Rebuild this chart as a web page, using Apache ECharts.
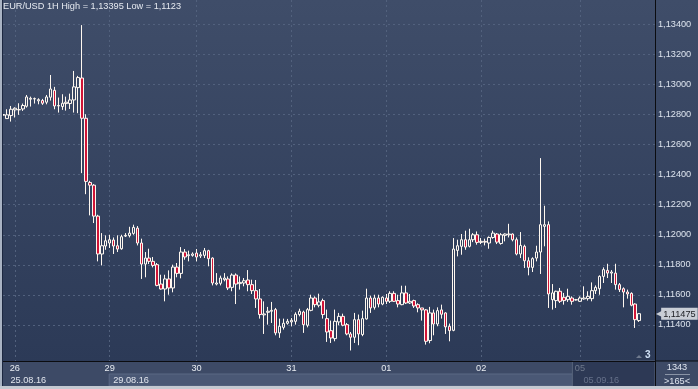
<!DOCTYPE html>
<html><head><meta charset="utf-8">
<script src="https://cdn.jsdelivr.net/npm/echarts@6/dist/echarts.min.js"></script>
<style>html,body{margin:0;padding:0;background:#2c3a57;overflow:hidden}#c{width:698px;height:389px}</style>
</head><body><div id="c"></div>
<script>
const titleText = 'EUR/USD 1H High = 1,13395 Low = 1,1123';
const opens = [
1.12795,1.12773,1.12793,1.12831,1.12831,1.12837,1.12855,1.12902,1.12904,1.12891,
1.12893,1.12882,1.12915,1.12961,1.12857,1.12853,1.12873,1.12873,1.12897,1.12979,
1.13043,1.12775,1.12348,1.12330,1.12124,1.11872,1.11925,1.11945,1.11965,1.11927,
1.11907,1.11991,1.11994,1.12009,1.12044,1.11945,1.11805,1.11845,1.11823,1.11801,
1.11672,1.11639,1.11706,1.11646,1.11785,1.11743,1.11885,1.11861,1.11863,1.11878,
1.11859,1.11863,1.11894,1.11845,1.11672,1.11677,1.11701,1.11706,1.11650,1.11732,
1.11675,1.11679,1.11699,1.11668,1.11628,1.11573,1.11467,1.11484,1.11491,1.11502,
1.11347,1.11384,1.11411,1.11420,1.11424,1.11469,1.11486,1.11398,1.11497,1.11579,
1.11531,1.11562,1.11442,1.11362,1.11309,1.11420,1.11457,1.11402,1.11340,1.11318,
1.11435,1.11336,1.11440,1.11579,1.11517,1.11579,1.11539,1.11579,1.11557,1.11610,
1.11562,1.11535,1.11613,1.11546,1.11562,1.11535,1.11513,1.11500,1.11296,1.11480,
1.11406,1.11500,1.11480,1.11391,1.11364,1.11896,1.11923,1.11967,1.11923,1.11967,
1.12000,1.11949,1.11956,1.11945,1.11982,1.12005,1.11942,1.11996,1.12000,1.12005,
1.11967,1.11872,1.11923,1.11827,1.11783,1.11845,1.11885,1.12056,1.12067,1.11568,
1.11562,1.11624,1.11584,1.11568,1.11579,1.11566,1.11557,1.11573,1.11575,1.11575,
1.11628,1.11641,1.11723,1.11763,1.11745,1.11745,1.11668,1.11641,1.11619,1.11610,
1.11539,1.11429];
const closes = [
1.12800,1.12798,1.12835,1.12842,1.12833,1.12860,1.12917,1.12908,1.12906,1.12899,
1.12875,1.12917,1.12970,1.12857,1.12860,1.12875,1.12882,1.12897,1.12984,1.13046,
1.12775,1.12355,1.12330,1.12124,1.11872,1.11927,1.11960,1.11967,1.11925,1.11905,
1.11987,1.11996,1.12011,1.12049,1.11945,1.11805,1.11845,1.11823,1.11796,1.11663,
1.11639,1.11706,1.11646,1.11785,1.11743,1.11885,1.11852,1.11867,1.11872,1.11852,
1.11867,1.11894,1.11841,1.11679,1.11679,1.11712,1.11712,1.11646,1.11732,1.11672,
1.11683,1.11694,1.11668,1.11628,1.11573,1.11469,1.11473,1.11491,1.11497,1.11347,
1.11391,1.11411,1.11424,1.11431,1.11471,1.11491,1.11402,1.11502,1.11579,1.11535,
1.11553,1.11469,1.11353,1.11313,1.11424,1.11457,1.11398,1.11340,1.11318,1.11435,
1.11340,1.11442,1.11579,1.11513,1.11579,1.11539,1.11584,1.11557,1.11610,1.11557,
1.11539,1.11613,1.11546,1.11557,1.11526,1.11513,1.11500,1.11291,1.11480,1.11406,
1.11495,1.11471,1.11387,1.11362,1.11905,1.11927,1.11967,1.11918,1.11967,1.12000,
1.11949,1.11956,1.11951,1.11982,1.12011,1.11951,1.12000,1.12005,1.12005,1.11967,
1.11872,1.11929,1.11827,1.11783,1.11841,1.11885,1.12067,1.12067,1.11606,1.11613,
1.11624,1.11557,1.11562,1.11590,1.11557,1.11568,1.11579,1.11579,1.11590,1.11628,
1.11650,1.11723,1.11768,1.11745,1.11752,1.11668,1.11635,1.11619,1.11606,1.11531,
1.11435,1.11475];
const lows = [
1.12771,1.12771,1.12753,1.12780,1.12798,1.12824,1.12846,1.12853,1.12873,1.12868,
1.12864,1.12868,1.12893,1.12835,1.12813,1.12831,1.12826,1.12837,1.12813,1.12809,
1.12410,1.12270,1.12129,1.12078,1.11823,1.11796,1.11900,1.11912,1.11872,1.11885,
1.11900,1.11985,1.11982,1.12000,1.11929,1.11706,1.11717,1.11805,1.11783,1.11657,
1.11635,1.11557,1.11601,1.11617,1.11717,1.11710,1.11834,1.11823,1.11854,1.11823,
1.11845,1.11845,1.11790,1.11663,1.11663,1.11663,1.11690,1.11632,1.11624,1.11539,
1.11635,1.11657,1.11624,1.11606,1.11513,1.11442,1.11340,1.11402,1.11413,1.11331,
1.11314,1.11369,1.11402,1.11391,1.11402,1.11457,1.11347,1.11384,1.11491,1.11517,
1.11517,1.11442,1.11287,1.11280,1.11291,1.11398,1.11391,1.11331,1.11230,1.11280,
1.11265,1.11325,1.11435,1.11480,1.11502,1.11517,1.11531,1.11539,1.11546,1.11553,
1.11517,1.11531,1.11539,1.11539,1.11513,1.11484,1.11429,1.11269,1.11278,1.11331,
1.11391,1.11442,1.11340,1.11291,1.11358,1.11856,1.11867,1.11900,1.11916,1.11951,
1.11934,1.11938,1.11929,1.11907,1.11974,1.11938,1.11934,1.11956,1.11982,1.11956,
1.11863,1.11845,1.11779,1.11730,1.11752,1.11823,1.11739,1.11923,1.11513,1.11502,
1.11513,1.11546,1.11535,1.11553,1.11535,1.11562,1.11553,1.11568,1.11562,1.11557,
1.11606,1.11601,1.11679,1.11712,1.11679,1.11635,1.11619,1.11517,1.11575,1.11524,
1.11380,1.11420];
const highs = [
1.12820,1.12835,1.12857,1.12848,1.12875,1.12873,1.12930,1.12919,1.12913,1.12908,
1.12904,1.12930,1.13063,1.12984,1.12913,1.12935,1.12919,1.12939,1.13090,1.13057,
1.13395,1.12802,1.12359,1.12337,1.12133,1.12011,1.11996,1.12000,1.11982,1.11996,
1.12000,1.12011,1.12053,1.12067,1.12058,1.11974,1.11885,1.11907,1.11852,1.11812,
1.11734,1.11734,1.11763,1.11801,1.11812,1.11918,1.11905,1.11894,1.11883,1.11905,
1.11885,1.11912,1.11900,1.11850,1.11745,1.11728,1.11745,1.11723,1.11743,1.11743,
1.11723,1.11712,1.11765,1.11701,1.11699,1.11639,1.11557,1.11520,1.11553,1.11513,
1.11442,1.11442,1.11440,1.11446,1.11484,1.11508,1.11495,1.11513,1.11601,1.11590,
1.11608,1.11575,1.11502,1.11429,1.11502,1.11480,1.11475,1.11413,1.11353,1.11480,
1.11469,1.11495,1.11641,1.11595,1.11601,1.11601,1.11590,1.11606,1.11624,1.11624,
1.11601,1.11661,1.11661,1.11606,1.11568,1.11544,1.11513,1.11506,1.11520,1.11502,
1.11517,1.11535,1.11484,1.11409,1.11978,1.11967,1.12005,1.12027,1.12040,1.12011,
1.12022,1.11978,1.11974,1.11989,1.12027,1.12011,1.12011,1.12009,1.12073,1.12009,
1.11982,1.12018,1.11934,1.11850,1.11850,1.11927,1.12510,1.12193,1.12089,1.11672,
1.11628,1.11646,1.11613,1.11641,1.11590,1.11573,1.11590,1.11657,1.11624,1.11683,
1.11663,1.11730,1.11783,1.11807,1.11765,1.11807,1.11679,1.11650,1.11635,1.11617,
1.11544,1.11478];
const slotCount = 166;
const dayTickIndex = [3, 27, 49, 73, 97, 121, 146];
const dayTickLabels = ['26', '29', '30', '31', '01', '02', '05'];
const dateIndex = [1, 27, 146];
const dateLabels = ['25.08.16', '29.08.16', '05.09.16'];
const yTicks = [1.114, 1.116, 1.118, 1.120, 1.122, 1.124, 1.126, 1.128, 1.130, 1.132, 1.134];
const lastPrice = 1.11475;
const totalBars = '1343';
const visibleBars = '>165<';
const pendingCount = '3';

const F = '"Liberation Sans", Arial, sans-serif';
const FS = 9.2;
const fmt = v => v.toFixed(5).replace('.', ',');
const categories = Array.from({length: slotCount}, (_, i) => String(i));
const candles = opens.map((o, i) => [o, closes[i], lows[i], highs[i]]);
const greyFrom = dayTickIndex[dayTickIndex.length - 1];

const chart = echarts.init(document.getElementById('c'), null, {renderer: 'canvas', width: 698, height: 389});
chart.setOption({
  animation: false,
  backgroundColor: {type: 'linear', x: 0, y: 0, x2: 0, y2: 1, colorStops: [
    {offset: 0, color: '#3f4d69'}, {offset: 0.93, color: '#2c3a57'}, {offset: 1, color: '#2c3a57'}]},
  title: {text: titleText, left: 3, top: 2, padding: 0,
    textStyle: {fontSize: FS, fontWeight: 'normal', color: '#e6eaf0', fontFamily: F}},
  grid: {left: 3, right: 43, top: 0, bottom: 28, containLabel: false},
  xAxis: [{
    type: 'category', data: categories, boundaryGap: false,
    axisLine: {show: true, lineStyle: {color: '#0b0c10', width: 1}},
    axisTick: {show: false},
    axisLabel: {
      interval: (i) => dayTickIndex.indexOf(i) >= 0,
      formatter: (v, i) => { const k = dayTickIndex.indexOf(i); if (k < 0) return ''; return (i >= greyFrom ? '{g|' : '{w|') + dayTickLabels[k] + '}'; },
      rich: {w: {color: '#e8ecf2', fontSize: FS, fontFamily: F}, g: {color: '#6e798c', fontSize: FS, fontFamily: F}},
      fontSize: FS, fontFamily: F, margin: 3
    },
    splitLine: {show: true, interval: (i) => dayTickIndex.indexOf(i) >= 0,
      lineStyle: {color: '#52617d', type: [2, 3], width: 1}}
  }, {
    type: 'category', data: categories, boundaryGap: false, position: 'bottom', offset: 12,
    axisLine: {show: false}, axisTick: {show: false}, splitLine: {show: false},
    axisLabel: {
      interval: (i) => dateIndex.indexOf(i) >= 0,
      formatter: (v, i) => { const k = dateIndex.indexOf(i); if (k < 0) return ''; return (i >= greyFrom ? '{g|' : '{w|') + dateLabels[k] + '}'; },
      rich: {w: {color: '#e2e6ee', fontSize: FS, fontFamily: F}, g: {color: '#66718a', fontSize: FS, fontFamily: F}},
      align: 'left', padding: [0, 0, 0, 3.5],
      fontSize: FS, fontFamily: F, margin: 3
    }
  }],
  yAxis: {
    type: 'value', position: 'right', scale: true, min: 1.1116, max: 1.13562,
    axisLine: {show: true, lineStyle: {color: '#0b0c10', width: 1}},
    axisTick: {show: false}, axisLabel: {show: false}, splitLine: {show: false}
  },
  series: [{
    type: 'candlestick', data: candles, barWidth: 3, z: 3,
    itemStyle: {color: 'rgba(0,0,0,0)', color0: '#d01437', borderColor: '#fff8f0', borderColor0: '#fff8f0', borderWidth: 1},
    emphasis: {disabled: true},
    markLine: {
      silent: true, symbol: ['none', 'none'], z: 1, animation: false, precision: 5,
      lineStyle: {color: '#52617d', type: [2, 3], width: 1},
      label: {position: 'end', distance: 3, color: '#dde4ee', fontSize: FS, fontFamily: F,
        formatter: p => fmt(p.value)},
      emphasis: {disabled: true},
      data: yTicks.map(v => ({yAxis: v})).concat([{
        yAxis: lastPrice, lineStyle: {color: 'rgba(0,0,0,0)', width: 0.01},
        label: {distance: 1, formatter: p => '{a|\u25C0}{b|' + fmt(p.value) + '}',
          rich: {a: {color: '#c9ced6', fontSize: 8, fontFamily: 'DejaVu Sans', padding: [0, -1, 0, 0]},
                 b: {backgroundColor: '#c9ced6', color: '#1b1d22', fontSize: FS, fontFamily: F, padding: [2, 2, 1, 2]}}}
      }])
    }
  }]
});

const xPix = i => chart.convertToPixel({xAxisIndex: 0}, i);
const yAxisX = 655, axisY = 361, H = 389, W = 698;
const bandStart = xPix(dateIndex[1]) - 0.5;
const shadeStart = xPix(greyFrom) - 7.5;
chart.setOption({graphic: [
  {type: 'rect', z: -10, silent: true, shape: {x: 0, y: axisY, width: W, height: H - axisY}, style: {fill: '#3d4a66'}},
  {type: 'rect', z: -9, silent: true, shape: {x: bandStart, y: 374, width: shadeStart - bandStart, height: 12}, style: {fill: '#4a5875', stroke: '#5a6884', lineWidth: 1}},
  {type: 'rect', z: -8, silent: true, shape: {x: shadeStart, y: axisY, width: yAxisX - shadeStart, height: H - axisY}, style: {fill: '#2d3955', stroke: '#56627b', lineWidth: 1}},
  {type: 'line', z: 10, silent: true, shape: {x1: yAxisX, y1: axisY, x2: W, y2: axisY}, style: {stroke: '#0b0c10', lineWidth: 1}},
  {type: 'line', z: 10, silent: true, shape: {x1: yAxisX + 0.5, y1: axisY, x2: yAxisX + 0.5, y2: H}, style: {stroke: '#0b0c10', lineWidth: 1}},
  {type: 'rect', z: 11, silent: true, shape: {x: 0, y: 0, width: 2, height: H}, style: {fill: '#a9b3c3'}},
  {type: 'line', z: 11, silent: true, shape: {x1: 2.5, y1: 0, x2: 2.5, y2: H}, style: {stroke: '#1c2740', lineWidth: 1}},
  {type: 'rect', z: 11, silent: true, shape: {x: 0, y: 386, width: W, height: 3}, style: {fill: '#c4c9d1'}},
  {type: 'text', z: 11, silent: true, x: 677, y: 367, style: {text: totalBars, fill: '#dfe5ef', font: FS + 'px ' + F, align: 'center', verticalAlign: 'middle'}},
  {type: 'line', z: 11, silent: true, shape: {x1: 665, y1: 374.5, x2: 690, y2: 374.5}, style: {stroke: '#8a94a6', lineWidth: 1}},
  {type: 'text', z: 11, silent: true, x: 677, y: 381, style: {text: visibleBars, fill: '#dfe5ef', font: FS + 'px ' + F, align: 'center', verticalAlign: 'middle'}},
  {type: 'polygon', z: 11, silent: true, shape: {points: [[636, 358], [639, 355], [642, 358]]}, style: {fill: '#6f7a8e'}},
  {type: 'text', z: 11, silent: true, x: 645, y: 355, style: {text: pendingCount, fill: '#cfe0f5', font: 'bold 10px ' + F, align: 'left', verticalAlign: 'middle'}}
]});
</script></body></html>
